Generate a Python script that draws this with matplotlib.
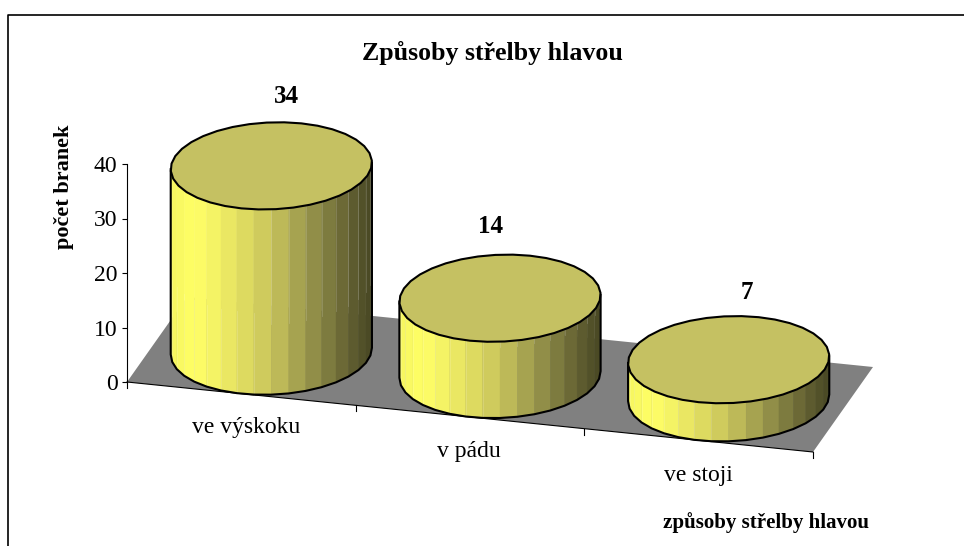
import numpy as np
import matplotlib
matplotlib.use("Agg")
import matplotlib.pyplot as plt
from matplotlib.patches import Polygon
from matplotlib.lines import Line2D

categories = ["ve výskoku", "v pádu", "ve stoji"]
values = [34, 14, 7]
y_ticks = [0, 10, 20, 30, 40]
title = "Způsoby střelby hlavou"
y_title = "počet branek"
x_title = "způsoby střelby hlavou"

W, H = 964, 546
plt.rcParams['font.family'] = ['Liberation Serif', 'DejaVu Serif']
fig = plt.figure(figsize=(W / 100, H / 100), dpi=100, facecolor="white")
ax = fig.add_axes([0, 0, 1, 1])

# value scale: 0 at pixel row 382, 5.45 px per unit
PX0, PY0, PPU = 127.0, 382.0, 5.45
ax.set_xlim(0, W)
ax.set_ylim((PY0 - H) / PPU, PY0 / PPU)
ax.patch.set_alpha(0)
for s in ["top", "right", "bottom"]:
    ax.spines[s].set_visible(False)
ax.spines["left"].set_position(("data", PX0))
ax.spines["left"].set_bounds(0, 40)
ax.spines["left"].set_linewidth(0.8)
ax.spines["left"].set_zorder(1)
ax.set_xticks([])
ax.set_yticks(y_ticks)
ax.tick_params(axis="y", length=3.8, width=0.8, labelsize=17, pad=3)


def pr(cat, depth, value):
    """category position, depth (0-1), value -> axes data coordinates"""
    x = PX0 + np.asarray(cat) * (686 / 3) + np.asarray(depth) * 60
    y = np.asarray(value) + (-np.asarray(cat) * (70 / 3) + np.asarray(depth) * 85) / PPU
    return x, y


n = len(categories)
# floor
fx, fy = pr([0, n, n, 0], [0, 0, 1, 1], [0, 0, 0, 0])
ax.add_patch(Polygon(np.c_[fx, fy], closed=True, fc="#808080", ec="none", zorder=1))
bx, by = pr([0, n], [0, 0], [0, 0])
ax.plot(bx, by, color="black", lw=0.8, zorder=1.5)
# x ticks below the front edge
for c in range(n + 1):
    tx, ty = pr(c, 0, 0)
    ax.plot([tx, tx], [ty, ty - 6 / PPU], color="black", lw=0.8, zorder=1.5)

RU, RV = 0.42, 0.5
SEG = 36
shade_pos = [0.0, 0.12, 0.25, 0.5, 0.75, 0.9, 1.0]
shade_rgb = np.array([[245, 245, 95], [255, 255, 102], [240, 238, 100],
                      [200, 196, 92], [135, 132, 68], [95, 93, 48], [70, 70, 34]]) / 255


def ring(c, value, th):
    return pr(c + 0.5 + RU * np.cos(th), 0.5 + RV * np.sin(th), value)


for i, v in enumerate(values):
    c = i
    th = np.linspace(0, 2 * np.pi, SEG + 1)
    # silhouette extremes: angles of the min / max projected x
    k_r = np.arctan2(60 * RV, (686 / 3) * RU)
    front = np.linspace(np.pi + k_r, 2 * np.pi + k_r, SEG // 2 + 1)
    xl = ring(c, 0, front[:1])[0][0]
    xr = ring(c, 0, front[-1:])[0][0]
    for j in range(len(front) - 1):
        a = front[j:j + 2]
        x0, y0 = ring(c, 0, a)
        x1, y1 = ring(c, v, a)
        t = (x0.mean() - xl) / (xr - xl)
        col = [np.interp(t, shade_pos, shade_rgb[:, q]) for q in range(3)]
        ax.add_patch(Polygon(np.r_[np.c_[x0, y0], np.c_[x1, y1][::-1]], closed=True,
                             fc=col, ec=col, lw=0.3, zorder=2 + i))
        # faint seams between facets
        if j > 0:
            lo, hi = (0, 15) if t < 0.5 else (13, v)
            hi = min(hi, v)
            if hi > lo:
                ax.plot([x0[0], x1[0]], [y0[0] + lo, y0[0] + hi], color="white", alpha=0.18,
                        lw=0.6, zorder=2.2 + i)
    # body outline
    x0, y0 = ring(c, 0, front)
    x1, y1 = ring(c, v, front)
    ax.plot(np.r_[x1[0], x0, x1[-1]], np.r_[y1[0], y0, y1[-1]], color="black", lw=1.5,
            zorder=2.5 + i, solid_joinstyle="round")
    # top
    xt, yt = ring(c, v, th)
    ax.add_patch(Polygon(np.c_[xt, yt], closed=True, fc="#C5C162", ec="black", lw=1.5,
                         zorder=2.6 + i, joinstyle="round"))

# data labels above each column
lab_off = [(-15, 27), (-39, 29), (-12, 25)]
for i, v in enumerate(values):
    lx, ly = ring(i, v, np.array([np.pi / 2]))
    ax.text(lx[0] + lab_off[i][0], ly[0] + lab_off[i][1] / PPU, str(v), fontsize=18,
            fontweight="bold", ha="center", va="center", zorder=9)

# category labels
cat_off = [(5, 34), (-1, 35), (0, 35)]
for i, name in enumerate(categories):
    lx, ly = pr(i + 0.5, 0, 0)
    ax.text(lx + cat_off[i][0], ly - cat_off[i][1] / PPU, name, fontsize=17,
            ha="center", va="center", zorder=9)


def pix(x, y):
    return x, (PY0 - y) / PPU


ax.text(*pix(492, 53), title, fontsize=18.6, fontweight="bold", ha="center", va="center")
ax.text(*pix(64, 187), y_title, fontsize=16, fontweight="bold", rotation=90, ha="center", va="center")
ax.text(*pix(766, 523), x_title, fontsize=15, fontweight="bold", ha="center", va="center")

# chart frame
frame_x = [8, 8, W]
frame_y = [H, 15, 15]
ax.add_line(Line2D(frame_x, [(PY0 - y) / PPU for y in frame_y], color="black", lw=1.2, zorder=10, clip_on=False))

fig.savefig("out.png", dpi=100, facecolor="white")
